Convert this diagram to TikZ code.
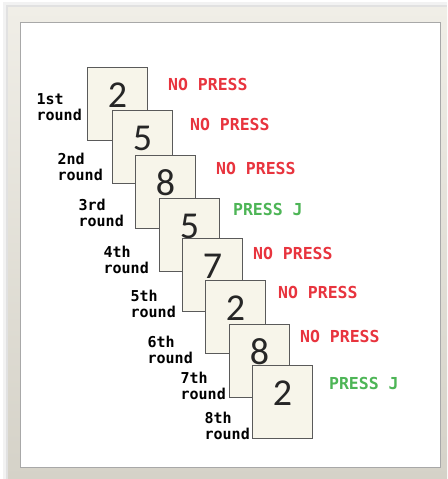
\documentclass[tikz,border=0pt]{standalone}
\usepackage{fontspec}
\setmainfont{Liberation Sans}
\setmonofont{DejaVu Sans Mono}
\newfontfamily\digitfont{Carlito}
\usetikzlibrary{positioning, calc}
\definecolor{CardFill}{HTML}{F7F5EA}
\definecolor{CardEdge}{HTML}{5A5A5A}
\definecolor{NoRed}{HTML}{E8343E}
\definecolor{GoGreen}{HTML}{4DB556}
\definecolor{FrameTop}{HTML}{F0EEE7}
\definecolor{FrameBot}{HTML}{D5D2C8}
\definecolor{PanelEdge}{HTML}{A8A8A8}

\begin{document}
\begin{tikzpicture}[
  x=1pt, y=-1pt,
  card/.style={draw=CardEdge, fill=CardFill, line width=0.9pt, anchor=north west,
               minimum width=60pt, minimum height=73pt, inner sep=0pt,
               font=\fontsize{38}{38}\digitfont, text=black!85, text height=24pt, text depth=17pt},
  roundlab/.style={align=left, inner sep=0pt, anchor=south east, text depth=0pt,
                   font=\fontsize{15}{16}\selectfont\ttfamily\bfseries},
  answer/.style={inner sep=0pt, text height=12pt, text depth=0pt,
                 font=\fontsize{16.5}{17}\selectfont\ttfamily\bfseries},
  nopress/.style={answer, text=NoRed},
  press/.style={answer, text=GoGreen}
]
  \useasboundingbox (0,0) rectangle (447,479);

  % frame and white panel
  \fill[black, opacity=0.05] (3,2) rectangle (447,479);
  \fill[black, opacity=0.07] (6,5) rectangle (447,479);
  \shade[top color=FrameTop, bottom color=FrameBot] (8,7) rectangle (447,479);
  \draw[PanelEdge, fill=white, line width=1pt] (20,22) rectangle (440,467);

  % cards, one per round
  \node[card] (c1) at (87,67)   {2};
  \node[card] (c2) at (112,110) {5};
  \node[card] (c3) at (135,155) {8};
  \node[card] (c4) at (159,198) {5};
  \node[card] (c5) at (182,238) {7};
  \node[card] (c6) at (205,280) {2};
  \node[card] (c7) at (229,324) {8};
  \node[card] (c8) at (252,365) {2};

  % what to do
  \node[nopress, right=20pt of c1.north east, yshift=-17pt] (a1) {NO PRESS};
  \node[nopress, right=17pt of c2.north east, yshift=-14pt] (a2) {NO PRESS};
  \node[nopress, right=20pt of c3.north east, yshift=-13pt] (a3) {NO PRESS};
  \node[press,   right=13pt of c4.north east, yshift=-11pt] (a4) {PRESS J};
  \node[nopress, right=10pt of c5.north east, yshift=-15pt] (a5) {NO PRESS};
  \node[nopress, right=12pt of c6.north east, yshift=-12pt] (a6) {NO PRESS};
  \node[nopress, right=10pt of c7.north east, yshift=-12pt] (a7) {NO PRESS};
  \node[press,   right=16pt of c8.north east, yshift=-18pt] (a8) {PRESS J};

  % round names
  \node[roundlab] (r1) at ($(c1.south west)+(-5,-20)$) {1st\\round};
  \node[roundlab] (r2) at ($(c2.south west)+(-9,-3)$)  {2nd\\round};
  \node[roundlab] (r3) at ($(c3.south west)+(-11,-2)$) {3rd\\round};
  \node[roundlab] (r4) at ($(c4.south west)+(-10,2)$)  {4th\\round};
  \node[roundlab] (r5) at ($(c5.south west)+(-6,6)$)   {5th\\round};
  \node[roundlab] (r6) at ($(c6.south west)+(-12,10)$) {6th\\round};
  \node[roundlab] (r7) at ($(c7.south west)+(-3,2)$)   {7th\\round};
  \node[roundlab] (r8) at ($(c8.south west)+(-2,1)$)   {8th\\round};
\end{tikzpicture}
\end{document}
